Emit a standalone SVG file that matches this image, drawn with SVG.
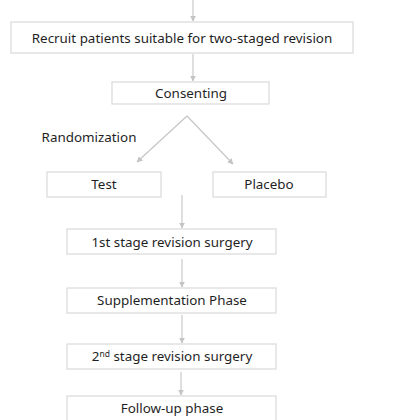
<svg xmlns="http://www.w3.org/2000/svg" width="420" height="420" viewBox="0 0 420 420">
<defs>
<style>
.box{fill:#ffffff;stroke:#d9d9d9;stroke-width:1.2}
.lbl{font-family:"Noto Sans","Open Sans","DejaVu Sans",sans-serif;font-size:13.4px;fill:#1f1f1f;text-anchor:middle}
.con{stroke:#c4c4c4;stroke-width:1.1;fill:none;marker-end:url(#ah)}
</style>
<marker id="ah" viewBox="0 0 10 10" refX="9" refY="5" markerWidth="6" markerHeight="6" markerUnits="userSpaceOnUse" orient="auto">
<path d="M0,0 L10,5 L0,10 z" fill="#c4c4c4"/>
</marker>
</defs>
<rect width="420" height="420" fill="#ffffff"/>
<g id="connectors">
<line class="con" x1="193" y1="0" x2="193" y2="21"/>
<line class="con" x1="193" y1="54" x2="193" y2="81"/>
<line class="con" x1="187" y1="116" x2="137" y2="162"/>
<line class="con" x1="187" y1="116" x2="233" y2="164"/>
<line class="con" x1="182" y1="195" x2="182" y2="228"/>
<line class="con" x1="182" y1="259" x2="182" y2="287"/>
<line class="con" x1="182" y1="315" x2="182" y2="343"/>
<line class="con" x1="181" y1="372" x2="181" y2="395"/>
</g>
<g id="recruit">
<rect class="box" x="11" y="22" width="342" height="31"/>
<text class="lbl" x="182" y="43">Recruit patients suitable for two-staged revision</text>
</g>
<g id="consenting">
<rect class="box" x="112" y="82" width="157" height="22"/>
<text class="lbl" x="191" y="98">Consenting</text>
</g>
<g id="randomization">
<text class="lbl" x="89" y="142">Randomization</text>
</g>
<g id="test">
<rect class="box" x="47" y="172" width="114" height="25"/>
<text class="lbl" x="104" y="189">Test</text>
</g>
<g id="placebo">
<rect class="box" x="213" y="172" width="113" height="25"/>
<text class="lbl" x="269" y="189">Placebo</text>
</g>
<g id="stage1">
<rect class="box" x="67" y="229" width="209" height="25"/>
<text class="lbl" x="172" y="247">1st stage revision surgery</text>
</g>
<g id="supplementation">
<rect class="box" x="67" y="288" width="209" height="25"/>
<text class="lbl" x="172" y="305">Supplementation Phase</text>
</g>
<g id="stage2">
<rect class="box" x="67" y="344" width="209" height="25"/>
<text class="lbl" x="172" y="361">2<tspan font-size="8.5" dy="-4.5">nd</tspan><tspan dy="4.5"> stage revision surgery</tspan></text>
</g>
<g id="followup">
<rect class="box" x="67" y="396" width="209" height="30"/>
<text class="lbl" x="172" y="413">Follow-up phase</text>
</g>
</svg>
